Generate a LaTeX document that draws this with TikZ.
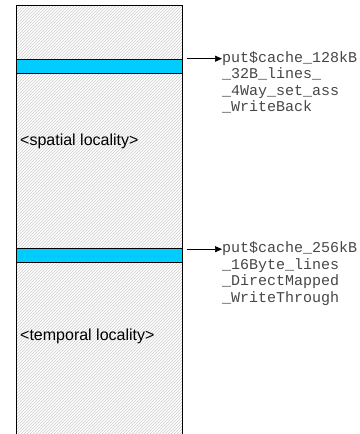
\documentclass[tikz,border=0pt]{standalone}
\usepackage{fontspec}
\setmainfont{Liberation Sans}
\newfontfamily\monof{Liberation Mono}
\usetikzlibrary{patterns,arrows.meta}
\definecolor{bandcyan}{RGB}{0,204,255}
\begin{document}
\begin{tikzpicture}[x=1pt,y=-1pt,
  memory/.style={draw=black,line width=0.9pt,pattern=north east lines,pattern color=black!20},
  band/.style={draw=black,line width=0.9pt,fill=bandcyan},
  loclabel/.style={anchor=base west,inner sep=0pt,font=\fontsize{16}{18}\selectfont},
  desc/.style={anchor=north west,inner sep=0pt,align=left,text=black!72,font=\monof\fontsize{15}{16.5}\selectfont},
  ptr/.style={-{Triangle[length=7pt,width=6pt]},line width=0.6pt}]
\clip (0,0) rectangle (359,434);
\fill[white] (0,0) rectangle (359,434);
\draw[memory] (16.7,5.7) rectangle (182.7,445);
\node[band,minimum width=166pt,minimum height=14pt,inner sep=0pt] (b1) at (99.7,66.3) {};
\node[band,minimum width=166pt,minimum height=14pt,inner sep=0pt] (b2) at (99.7,255.3) {};
\node[loclabel] (sl) at (20,145) {<spatial locality>};
\node[loclabel] (tl) at (20,340) {<temporal locality>};
\coordinate (s1) at (186.7,58.7);
\coordinate (s2) at (186.7,249.2);
\node[desc] (d1) at (222,51) {put\$cache\_128kB\\\_32B\_lines\_\\\_4Way\_set\_ass\\\_WriteBack};
\node[desc] (d2) at (222,241.5) {put\$cache\_256kB\\\_16Byte\_lines\\\_DirectMapped\\\_WriteThrough};
\draw[ptr] (s1) -- (s1 -| d1.west);
\draw[ptr] (s2) -- (s2 -| d2.west);
\end{tikzpicture}
\end{document}
